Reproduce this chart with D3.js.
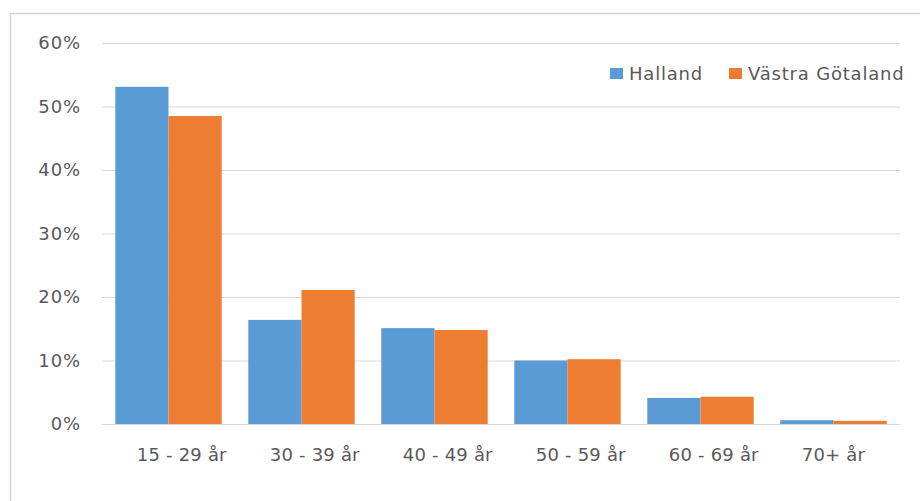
<!DOCTYPE html>
<html>
<head>
<meta charset="utf-8">
<script src="https://cdn.jsdelivr.net/npm/d3@7"></script>
<style>
  html, body { margin: 0; padding: 0; background: #fff; }
  svg text { font-family: "DejaVu Sans", sans-serif; fill: #595959; }
</style>
</head>
<body>
<svg id="chart" width="920" height="501"></svg>
<script>
// Age groups and share of each region's total (percent)
const categories = ["15 - 29 år", "30 - 39 år", "40 - 49 år", "50 - 59 år", "60 - 69 år", "70+ år"];
const seriesNames = ["Halland", "Västra Götaland"];
const halland = [53.1, 16.4, 15.1, 10.0, 4.1, 0.6];
const vastraGotaland = [48.5, 21.1, 14.8, 10.2, 4.3, 0.5];
const yTicks = [0, 10, 20, 30, 40, 50, 60];
const colors = ["#5B9BD5", "#ED7D31"];

const seriesValues = [halland, vastraGotaland];

const svg = d3.select("#chart");

// Outer chart frame
svg.append("rect")
  .attr("x", 10.5).attr("y", 13.5)
  .attr("width", 1000).attr("height", 1000)
  .attr("fill", "none")
  .attr("stroke", "#d4d4d4")
  .attr("stroke-width", 1.5);

const plot = { left: 102, right: 900, top: 43, bottom: 424 };

const x = d3.scaleBand()
  .domain(categories)
  .range([plot.left, plot.right])
  .paddingInner(0.2)
  .paddingOuter(0.1);

const xInner = d3.scaleBand()
  .domain(seriesNames)
  .range([0, x.bandwidth()]);

const y = d3.scaleLinear()
  .domain([0, 60])
  .range([plot.bottom, plot.top]);

// Horizontal gridlines and percent labels
const yAxis = d3.axisLeft(y)
  .tickValues(yTicks)
  .tickFormat(d => d + "%")
  .tickSize(-(plot.right - plot.left))
  .tickPadding(21);

const gy = svg.append("g")
  .attr("transform", `translate(${plot.left},0)`)
  .call(yAxis);
gy.select(".domain").remove();
gy.selectAll(".tick line").attr("stroke", "#d9d9d9").attr("stroke-width", 1.2);
gy.selectAll(".tick text")
  .attr("font-size", 18)
  .attr("letter-spacing", 0.9)
  .style("fill", "#595959");

// Grouped bars
const groups = svg.append("g").selectAll("g")
  .data(categories)
  .join("g")
  .attr("transform", d => `translate(${x(d)},0)`);

groups.selectAll("rect")
  .data((d, i) => seriesNames.map((name, s) => ({ name, value: seriesValues[s][i], s })))
  .join("rect")
  .attr("x", d => xInner(d.name))
  .attr("y", d => y(d.value))
  .attr("width", xInner.bandwidth())
  .attr("height", d => y(0) - y(d.value))
  .attr("fill", d => colors[d.s]);

// Category axis (labels start a fixed inset from each group's left edge)
const xAxis = d3.axisBottom(x).tickSize(0).tickPadding(24);
const gx = svg.append("g")
  .attr("transform", `translate(0,${plot.bottom})`)
  .call(xAxis);
gx.select(".domain").attr("stroke", "#d9d9d9").attr("stroke-width", 1.2);
gx.selectAll(".tick text")
  .attr("font-size", 18)
  .attr("letter-spacing", 0.2)
  .attr("text-anchor", "start")
  .attr("x", -x.bandwidth() / 2 + 21.5)
  .style("fill", "#595959");

// Legend
const legendItems = [
  { name: seriesNames[0], color: colors[0], x: 610 },
  { name: seriesNames[1], color: colors[1], x: 729 }
];
const legend = svg.append("g");
legendItems.forEach(item => {
  legend.append("rect")
    .attr("x", item.x).attr("y", 68)
    .attr("width", 13).attr("height", 11)
    .attr("fill", item.color);
  legend.append("text")
    .attr("x", item.x + 19).attr("y", 74)
    .attr("dy", "0.35em")
    .attr("font-size", 18)
    .attr("letter-spacing", 0.8)
    .text(item.name);
});
</script>
</body>
</html>
